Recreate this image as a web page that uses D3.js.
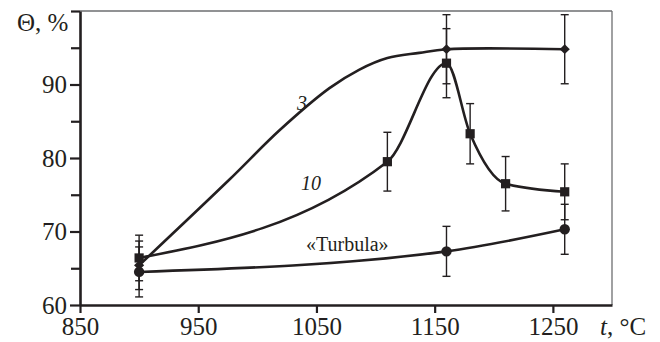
<!DOCTYPE html>
<html><head><meta charset="utf-8">
<script src="https://cdn.jsdelivr.net/npm/d3@7"></script>
</head>
<body style="margin:0">
<svg id="c" width="660" height="342"></svg>
<script>
// ---- data ----
const xTicks = [850, 950, 1050, 1150, 1250];
const yTicks = [60, 70, 80, 90];
const yMinorTicks = [65, 75, 85, 95, 100];

// series "3" (diamonds)
const temps3 = [900, 1160, 1260];
const vals3  = [65.4, 94.8, 94.8];
const err3   = [3.3, 4.7, 4.7];
// drawn trend curve of series "3"
const curve3T = [900, 976, 1019, 1061, 1086, 1110, 1137, 1160, 1260];
const curve3V = [65.4, 77.0, 83.8, 89.5, 92.0, 93.6, 94.3, 94.8, 94.8];

// series "10" (squares)
const temps10 = [900, 1110, 1160, 1180, 1210, 1260];
const vals10  = [66.4, 79.5, 92.9, 83.3, 76.5, 75.4];
const err10   = [3.1, 4.0, 4.7, 4.1, 3.7, 3.8];

// series «Turbula» (circles)
const tempsT = [900, 1160, 1260];
const valsT  = [64.5, 67.3, 70.3];
const errT   = [3.4, 3.4, 3.4];

const seriesLabels = ["3", "10", "«Turbula»"];

// ---- drawing ----
const ink = "#231f20";
const serif = "'Liberation Serif'";
const svg = d3.select("#c");
const x = d3.scaleLinear().domain([850, 1300]).range([80, 612]);
const y = d3.scaleLinear().domain([60, 100]).range([305, 11]);

// frame (top and right, thin gray)
svg.append("line").attr("x1", x(850)).attr("x2", x(1300)).attr("y1", y(100)).attr("y2", y(100))
  .attr("stroke", "#6d6e70").attr("stroke-width", 1.3);
svg.append("line").attr("x1", x(1300)).attr("x2", x(1300)).attr("y1", y(100)).attr("y2", y(60))
  .attr("stroke", "#6d6e70").attr("stroke-width", 1.3);

// axes
const gx = svg.append("g").attr("transform", `translate(0,${y(60)})`)
  .call(d3.axisBottom(x).tickValues(xTicks).tickSize(8).tickSizeOuter(0).tickPadding(4).tickFormat(d3.format("d")));
const gy = svg.append("g").attr("transform", `translate(${x(850)},0)`)
  .call(d3.axisLeft(y).tickValues(yTicks).tickSize(10).tickSizeOuter(0).tickPadding(3).tickFormat(d3.format("d")));
const gym = svg.append("g").attr("transform", `translate(${x(850)},0)`)
  .call(d3.axisLeft(y).tickValues(yMinorTicks).tickSize(9).tickSizeOuter(0).tickFormat(""));
[gx, gy, gym].forEach(g => {
  g.attr("font-family", serif).attr("font-size", 25);
  g.select(".domain").attr("stroke", ink).attr("stroke-width", 2.6);
  g.selectAll(".tick line").attr("stroke", ink).attr("stroke-width", 2.2);
  g.selectAll(".tick text").attr("fill", ink).attr("font-size", 25);
});
gym.select(".domain").remove();

// axis titles
svg.append("text").attr("x", 17).attr("y", 31).attr("font-size", 25).attr("fill", ink).text("Θ, %");
const xt = svg.append("text").attr("x", 600).attr("y", 335).attr("font-size", 25).attr("fill", ink);
xt.append("tspan").attr("font-style", "italic").text("t");
xt.append("tspan").text(", °C");

// lines
const line = d3.line().x(d => x(d[0])).y(d => y(d[1])).curve(d3.curveMonotoneX);
const lineStyle = sel => sel.attr("fill", "none").attr("stroke", ink).attr("stroke-width", 2.6);
svg.append("path").datum(d3.zip(tempsT, valsT)).attr("d", line).call(lineStyle);
svg.append("path").datum(d3.zip(temps10, vals10)).attr("d", line).call(lineStyle);
svg.append("path").datum(d3.zip(curve3T, curve3V))
  .attr("d", line.curve(d3.curveCatmullRom.alpha(0.5))).call(lineStyle);

// error bars
function errorBars(ts, vs, es) {
  const g = svg.append("g").attr("stroke", ink).attr("stroke-width", 1.4);
  ts.forEach((t, i) => {
    const cx = x(t), y1 = y(vs[i] + es[i]), y2 = y(vs[i] - es[i]);
    g.append("line").attr("x1", cx).attr("x2", cx).attr("y1", y1).attr("y2", y2);
    g.append("line").attr("x1", cx - 4).attr("x2", cx + 4).attr("y1", y1).attr("y2", y1);
    g.append("line").attr("x1", cx - 4).attr("x2", cx + 4).attr("y1", y2).attr("y2", y2);
  });
}
errorBars(tempsT, valsT, errT);
errorBars(temps10, vals10, err10);
errorBars(temps3, vals3, err3);

// markers
svg.append("g").selectAll("circle").data(d3.zip(tempsT, valsT)).join("circle")
  .attr("cx", d => x(d[0])).attr("cy", d => y(d[1])).attr("r", 5.2).attr("fill", ink);
svg.append("g").selectAll("rect").data(d3.zip(temps10, vals10)).join("rect")
  .attr("x", d => x(d[0]) - 4.6).attr("y", d => y(d[1]) - 4.6).attr("width", 9.2).attr("height", 9.2).attr("fill", ink);
svg.append("g").selectAll("path").data(d3.zip(temps3, vals3)).join("path")
  .attr("d", d3.symbol(d3.symbolDiamond2, 60)())
  .attr("transform", d => `translate(${x(d[0])},${y(d[1])}) scale(1.05,1)`).attr("fill", ink);

// series labels
svg.append("text").attr("x", 297).attr("y", 110).attr("font-size", 20).attr("font-style", "italic")
  .attr("fill", ink).text(seriesLabels[0]);
svg.append("text").attr("x", 301).attr("y", 190).attr("font-size", 20).attr("font-style", "italic")
  .attr("fill", ink).text(seriesLabels[1]);
svg.append("text").attr("x", 306).attr("y", 251).attr("font-size", 20)
  .attr("fill", ink).text(seriesLabels[2]);

// apply the serif face to every text element and force layout
svg.selectAll("text, tspan").attr("font-family", serif).style("font-family", serif);
svg.selectAll("text").each(function () { this.getComputedTextLength(); });
</script>
</body></html>
